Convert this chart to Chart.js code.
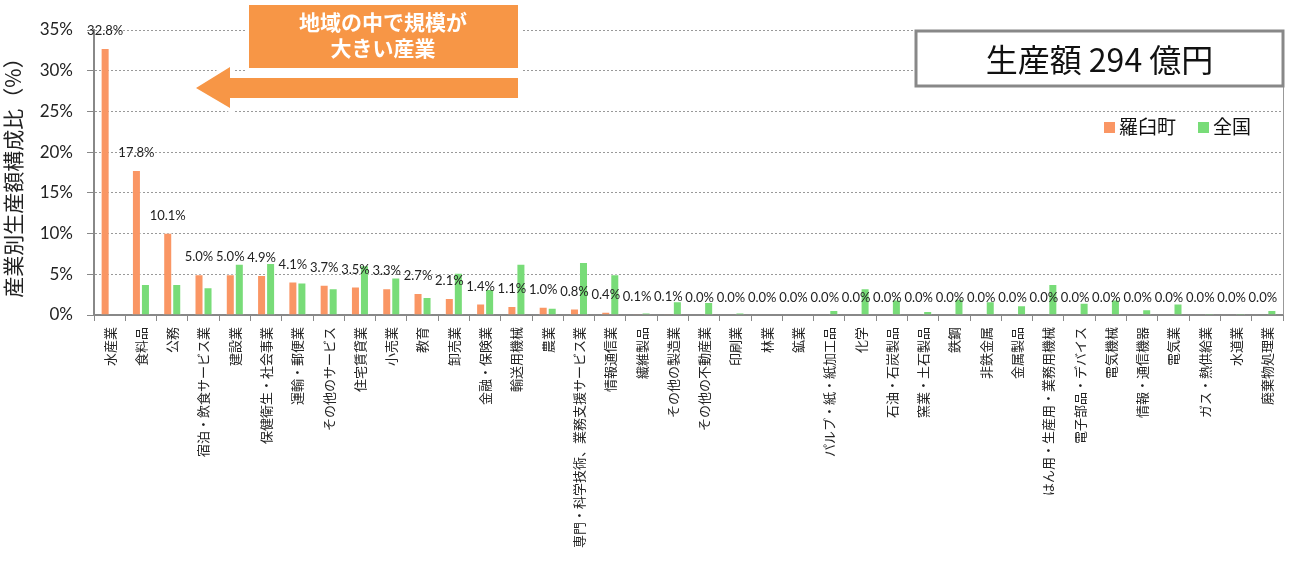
<!DOCTYPE html>
<html>
<head>
<meta charset="utf-8">
<script src="https://cdn.jsdelivr.net/npm/chart.js@4.4.1/dist/chart.umd.min.js"></script>
<style>
  body { margin: 0; background: #fff; }
  canvas { display: block; }
</style>
</head>
<body>
<canvas id="myChart" width="1290" height="563"></canvas>
<script>
// Data
var categories = [
  '水産業', '食料品', '公務', '宿泊・飲食サービス業', '建設業', '保健衛生・社会事業',
  '運輸・郵便業', 'その他のサービス', '住宅賃貸業', '小売業', '教育', '卸売業',
  '金融・保険業', '輸送用機械', '農業', '専門・科学技術、業務支援サービス業', '情報通信業',
  '繊維製品', 'その他の製造業', 'その他の不動産業', '印刷業', '林業', '鉱業',
  'パルプ・紙・紙加工品', '化学', '石油・石炭製品', '窯業・土石製品', '鉄鋼', '非鉄金属',
  '金属製品', 'はん用・生産用・業務用機械', '電子部品・デバイス', '電気機械', '情報・通信機器',
  '電気業', 'ガス・熱供給業', '水道業', '廃棄物処理業'
];
var rausuValues = [
  32.8, 17.8, 10.1, 5.0, 5.0, 4.9, 4.1, 3.7, 3.5, 3.3, 2.7, 2.1, 1.4, 1.1, 1.0, 0.8, 0.4,
  0.1, 0.1, 0.0, 0.0, 0.0, 0.0, 0.0, 0.0, 0.0, 0.0, 0.0, 0.0, 0.0, 0.0, 0.0, 0.0, 0.0,
  0.0, 0.0, 0.0, 0.0
];
var zenkokuValues = [
  0.0, 3.8, 3.8, 3.4, 6.3, 6.4, 4.0, 3.3, 6.1, 4.6, 2.2, 5.2, 3.2, 6.3, 0.9, 6.5, 5.0,
  0.3, 1.7, 1.6, 0.3, 0.0, 0.0, 0.6, 3.3, 1.9, 0.5, 2.0, 1.7, 1.2, 3.8, 1.5, 1.9, 0.7,
  1.4, 0.2, 0.2, 0.6
];
var seriesNames = ['羅臼町', '全国'];
var yAxisTitle = '産業別生産額構成比（%）';
var titleText = '生産額 294 億円';
var calloutLines = ['地域の中で規模が', '大きい産業'];

var ORANGE = '#FA9664';
var GREEN = '#78DC78';
var CALLOUT = '#F79646';
var JP_FONT = '"Noto Sans CJK JP", sans-serif';
var NUM_FONT = 'Lato, "Noto Sans CJK JP", sans-serif';

// drawing helpers

function drawValueLabels(chart){
    var ctx = chart.ctx;
    var meta = chart.getDatasetMeta(0);
    ctx.save();
    ctx.fillStyle = '#222';
    ctx.textAlign = 'center';
    ctx.textBaseline = 'middle';
    ctx.font = '13px ' + NUM_FONT;
    for (var i = 0; i < meta.data.length; i++) {
        var bar = meta.data[i];
        ctx.fillText(rausuValues[i].toFixed(1) + '%', bar.x, bar.y - 17);
    }
    ctx.restore();
}

function drawLegend(chart){
    var ctx = chart.ctx;
    var items = [{x: 1104, color: ORANGE, text: seriesNames[0]},
                 {x: 1198, color: GREEN, text: seriesNames[1]}];
    ctx.save();
    ctx.font = '19px ' + JP_FONT;
    ctx.textBaseline = 'middle';
    ctx.textAlign = 'left';
    items.forEach(function(it){
        ctx.fillStyle = it.color;
        ctx.fillRect(it.x, 122, 11, 11);
        ctx.fillStyle = '#111';
        ctx.fillText(it.text, it.x + 15, 127);
    });
    ctx.restore();
}

function drawTitleBox(chart){
    var ctx = chart.ctx;
    var right = chart.chartArea.right;
    ctx.save();
    ctx.fillStyle = '#fff';
    ctx.fillRect(916, 31, right - 916, 55);
    ctx.strokeStyle = '#888';
    ctx.lineWidth = 3;
    ctx.strokeRect(916, 31, right - 916, 55);
    ctx.fillStyle = '#111';
    ctx.font = '32px ' + JP_FONT;
    ctx.textAlign = 'center';
    ctx.textBaseline = 'middle';
    ctx.fillText(titleText, (916 + right) / 2, 60);
    ctx.restore();
}

function drawCallout(chart){
    var ctx = chart.ctx;
    ctx.save();
    // arrow
    ctx.beginPath();
    ctx.moveTo(196, 88);
    ctx.lineTo(230, 67);
    ctx.lineTo(230, 78);
    ctx.lineTo(518, 78);
    ctx.lineTo(518, 98);
    ctx.lineTo(230, 98);
    ctx.lineTo(230, 108);
    ctx.closePath();
    ctx.strokeStyle = '#fff';
    ctx.lineWidth = 8;
    ctx.lineJoin = 'miter';
    ctx.stroke();
    ctx.fillStyle = CALLOUT;
    ctx.fill();
    // box
    ctx.fillStyle = '#fff';
    ctx.fillRect(246, 2, 275, 69);
    ctx.fillStyle = CALLOUT;
    ctx.fillRect(249, 5, 269, 63);
    ctx.fillStyle = '#fff';
    ctx.font = 'bold 21px ' + JP_FONT;
    ctx.textAlign = 'center';
    ctx.textBaseline = 'middle';
    ctx.fillText(calloutLines[0], 383, 22);
    ctx.fillText(calloutLines[1], 383, 48);
    ctx.restore();
}

function drawRightBorder(chart){
    var ctx = chart.ctx;
    var a = chart.chartArea;
    ctx.save();
    ctx.strokeStyle = '#999';
    ctx.lineWidth = 1;
    ctx.beginPath();
    ctx.moveTo(a.right + 0.5, a.top);
    ctx.lineTo(a.right + 0.5, a.bottom);
    ctx.stroke();
    ctx.restore();
}

var extrasPlugin = {
    id: 'extras',
    afterDraw: function(chart){
        drawRightBorder(chart);
        drawValueLabels(chart);
        drawLegend(chart);
        drawTitleBox(chart);
        drawCallout(chart);
    }
};

function graphic(){
    var ctx = document.getElementById('myChart').getContext('2d');
    var chart = new Chart(ctx, {
        type: 'bar',
        data: {
            labels: categories,
            datasets: [{
                label: seriesNames[0],
                backgroundColor: ORANGE,
                borderColor: 'rgba(255,255,255,0.45)',
                borderWidth: 1,
                data: rausuValues
            }, {
                label: seriesNames[1],
                backgroundColor: GREEN,
                borderColor: 'rgba(255,255,255,0.45)',
                borderWidth: 1,
                data: zenkokuValues
            }]
        },
        options: {
            responsive: false,
            animation: false,
            devicePixelRatio: 1,
            categoryPercentage: 0.576,
            barPercentage: 1.0,
            layout: { padding: { top: 30, right: 7, left: 0, bottom: 0 } },
            plugins: {
                legend: { display: false },
                tooltip: { enabled: false }
            },
            scales: {
                x: {
                    afterFit: function(scale){ scale.height = 248; },
                    grid: {
                        display: true,
                        offset: true,
                        drawOnChartArea: false,
                        drawTicks: true,
                        tickLength: 6,
                        tickColor: '#888'
                    },
                    border: { display: true, color: '#888', width: 2 },
                    ticks: {
                        autoSkip: false,
                        minRotation: 90,
                        maxRotation: 90,
                        padding: 6,
                        color: '#222',
                        font: { family: JP_FONT, size: 13 }
                    }
                },
                y: {
                    min: 0,
                    max: 35,
                    afterFit: function(scale){ scale.width = 94; },
                    grid: {
                        color: '#999',
                        lineWidth: 1,
                        drawTicks: true,
                        tickLength: 7,
                        tickColor: '#888',
                        tickWidth: 1
                    },
                    border: { display: true, color: '#888', width: 2, dash: [2, 2] },
                    ticks: {
                        stepSize: 5,
                        padding: 14,
                        color: '#222',
                        font: { family: NUM_FONT, size: 17 },
                        callback: function(v){ return v + '%'; }
                    },
                    title: {
                        display: true,
                        text: yAxisTitle,
                        color: '#222',
                        font: { family: JP_FONT, size: 21 },
                        padding: { top: 0, bottom: 0 }
                    }
                }
            }
        },
        plugins: [extrasPlugin]
    });
}

graphic();
</script>
</body>
</html>
